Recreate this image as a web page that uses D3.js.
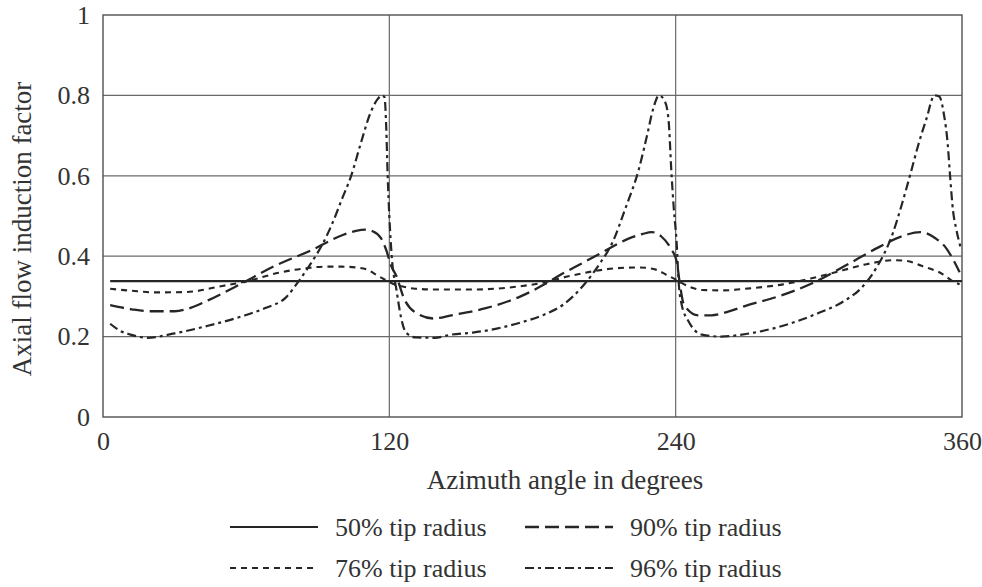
<!DOCTYPE html>
<html>
<head>
<meta charset="utf-8">
<script src="https://cdn.jsdelivr.net/npm/d3@7"></script>
<style>
  html, body { margin: 0; padding: 0; background: #fff; }
  svg { display: block; }
  text { font-family: "Liberation Serif", "Times New Roman", serif; fill: #333; }
</style>
</head>
<body>
<svg id="chart" width="982" height="587"></svg>
<script>
// ---- data ----
const xTicks = [0, 120, 240, 360];
const yTicks = [0, 0.2, 0.4, 0.6, 0.8, 1];
const yTickLabels = ["0", "0.2", "0.4", "0.6", "0.8", "1"];
const xTitle = "Azimuth angle in degrees";
const yTitle = "Axial flow induction factor";
const seriesNames = ["50% tip radius", "76% tip radius", "90% tip radius", "96% tip radius"];

const angles50 = [3, 360];
const values50 = [0.338, 0.338];

const angles76 = [3, 12, 22, 35, 50, 62, 73, 85, 93, 100, 106, 111, 115, 118, 120, 122, 126, 131, 140, 155, 170, 185, 195, 205, 215, 225, 232, 236, 240, 245, 251, 260, 271, 285, 297, 310, 320, 331, 337, 343, 352, 356, 359];
const values76 = [0.319, 0.314, 0.31, 0.311, 0.326, 0.34, 0.358, 0.37, 0.374, 0.374, 0.372, 0.366, 0.352, 0.342, 0.336, 0.33, 0.324, 0.319, 0.317, 0.317, 0.322, 0.335, 0.35, 0.362, 0.37, 0.372, 0.366, 0.354, 0.342, 0.326, 0.316, 0.315, 0.32, 0.33, 0.345, 0.365, 0.38, 0.39, 0.388, 0.376, 0.355, 0.338, 0.33];

const angles90 = [3, 12, 20, 30, 37, 44, 58, 72, 87, 101, 106, 110, 113, 116.5, 119, 120.5, 123, 126, 131.5, 138.5, 146, 160, 175, 185, 193, 200, 210, 220, 226, 230, 234, 238, 240.5, 241.5, 243.5, 249.5, 255, 262, 269, 283, 297, 311, 325, 335, 342.5, 349, 353.5, 356, 359];
const values90 = [0.278, 0.268, 0.263, 0.263, 0.272, 0.29, 0.332, 0.376, 0.414, 0.454, 0.463, 0.466, 0.462, 0.445, 0.41, 0.38, 0.35, 0.297, 0.258, 0.245, 0.253, 0.27, 0.3, 0.33, 0.358, 0.38, 0.412, 0.443, 0.455, 0.46, 0.449, 0.419, 0.385, 0.342, 0.279, 0.253, 0.253, 0.262, 0.276, 0.3, 0.332, 0.376, 0.422, 0.45, 0.46, 0.444, 0.419, 0.395, 0.36];

const angles96 = [3, 7, 11.5, 18.7, 30, 44, 58, 68, 76.6, 82.5, 88, 92, 96, 100, 104, 108, 112, 115, 117, 118, 118.7, 119.3, 120, 121, 123, 125, 127, 131, 139, 146, 155, 165, 175, 185, 193, 202, 208, 213.5, 219, 224.5, 228, 230.5, 233, 235.5, 237, 238.3, 239.2, 240.4, 241.3, 242.5, 245.5, 251, 259, 270, 285, 297.5, 311, 317.5, 324, 331, 334.5, 338.5, 341.5, 345, 348.5, 350.5, 352.5, 354, 355, 356.3, 357.5, 359.5];
const values96 = [0.232, 0.215, 0.205, 0.197, 0.208, 0.227, 0.25, 0.271, 0.297, 0.342, 0.39, 0.43, 0.48, 0.54, 0.6, 0.68, 0.755, 0.79, 0.8, 0.795, 0.72, 0.6, 0.5, 0.4, 0.316, 0.245, 0.21, 0.198, 0.197, 0.205, 0.21, 0.22, 0.235, 0.255, 0.28, 0.332, 0.38, 0.434, 0.52, 0.615, 0.7, 0.765, 0.8, 0.785, 0.74, 0.6, 0.52, 0.434, 0.332, 0.28, 0.237, 0.205, 0.2, 0.207, 0.227, 0.253, 0.29, 0.319, 0.37, 0.457, 0.523, 0.607, 0.673, 0.74, 0.8, 0.797, 0.75, 0.68, 0.6, 0.51, 0.47, 0.42];

// ---- layout ----
const svg = d3.select("#chart");
const plotL = 103, plotR = 962, plotT = 15, plotB = 417;
const x = d3.scaleLinear().domain([0, 360]).range([plotL, plotR]);
const y = d3.scaleLinear().domain([0, 1]).range([plotB, plotT]);
const ink = "#262626";
const gridColor = "#6a6a6a";
const FS = 26;

// grid
const g = svg.append("g");
g.selectAll("line.hg").data(yTicks.filter(d => d > 0 && d < 1)).join("line")
  .attr("x1", plotL).attr("x2", plotR)
  .attr("y1", d => y(d)).attr("y2", d => y(d))
  .attr("stroke", gridColor).attr("stroke-width", 1.2);
g.selectAll("line.vg").data(xTicks.filter(d => d > 0 && d < 360)).join("line")
  .attr("y1", plotT).attr("y2", plotB)
  .attr("x1", d => x(d)).attr("x2", d => x(d))
  .attr("stroke", gridColor).attr("stroke-width", 1.2);
g.append("rect").attr("x", plotL).attr("y", plotT)
  .attr("width", plotR - plotL).attr("height", plotB - plotT)
  .attr("fill", "none").attr("stroke", "#505050").attr("stroke-width", 1.4);

// axes (labels only, via d3 axes)
const yAxis = d3.axisLeft(y).tickValues(yTicks).tickFormat((d, i) => yTickLabels[i]).tickSize(0).tickPadding(13);
const xAxis = d3.axisBottom(x).tickValues(xTicks).tickFormat(d3.format("d")).tickSize(0).tickPadding(15);
const ya = svg.append("g").attr("transform", `translate(${plotL},0)`).call(yAxis);
const xa = svg.append("g").attr("transform", `translate(0,${plotB})`).call(xAxis);
[ya, xa].forEach(a => {
  a.select(".domain").remove();
  a.selectAll("text").attr("font-family", "Liberation Serif, serif").attr("font-size", FS).attr("fill", "#333");
});

// axis titles
svg.append("text").attr("x", 565).attr("y", 489).attr("text-anchor", "middle")
  .attr("font-size", FS + 1).text(xTitle);
svg.append("text").attr("transform", "translate(31,229) rotate(-90)").attr("text-anchor", "middle")
  .attr("font-size", FS + 1).text(yTitle);

// series
const series = [
  { name: seriesNames[0], a: angles50, v: values50, dash: null, w: 2.2 },
  { name: seriesNames[1], a: angles76, v: values76, dash: "6,5", w: 2.1 },
  { name: seriesNames[2], a: angles90, v: values90, dash: "14,6", w: 2.3 },
  { name: seriesNames[3], a: angles96, v: values96, dash: "9,4,3,4", w: 2.2 }
];
const line = d3.line().x(d => x(d[0])).y(d => y(d[1])).curve(d3.curveMonotoneX);
series.forEach(s => {
  svg.append("path")
    .datum(s.a.map((a, i) => [a, s.v[i]]))
    .attr("d", line)
    .attr("fill", "none")
    .attr("stroke", ink)
    .attr("stroke-width", s.w)
    .attr("stroke-dasharray", s.dash);
});

// legend
const legendPos = [
  { sx: 230, tx: 335, y: 527 },
  { sx: 230, tx: 335, y: 568 },
  { sx: 525, tx: 630, y: 527 },
  { sx: 525, tx: 630, y: 568 }
];
series.forEach((s, i) => {
  const p = legendPos[i];
  svg.append("line").attr("x1", p.sx).attr("x2", p.sx + 88)
    .attr("y1", p.y).attr("y2", p.y)
    .attr("stroke", ink).attr("stroke-width", s.w)
    .attr("stroke-dasharray", s.dash);
  svg.append("text").attr("x", p.tx).attr("y", p.y).attr("dy", "0.33em")
    .attr("font-size", FS).text(s.name);
});
</script>
</body>
</html>
